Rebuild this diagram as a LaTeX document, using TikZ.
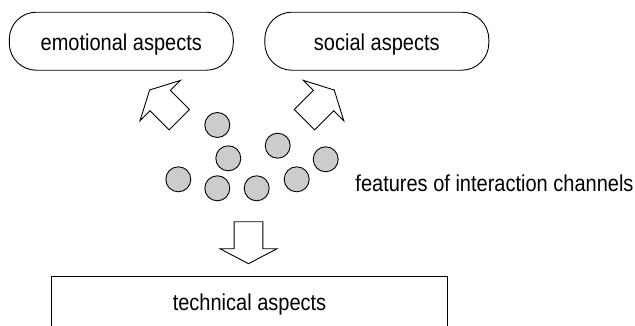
\documentclass[tikz,border=0pt]{standalone}
\usepackage{fontspec}
\setmainfont{Liberation Sans}[FakeStretch=0.87]
\begin{document}
\begin{tikzpicture}[x=1pt,y=1pt,line width=0.9pt,
    font=\fontsize{23}{28}\selectfont,
    aspect/.style={draw,rounded corners=27pt,minimum width=224pt,minimum height=58pt,
      text height=18pt,text depth=0pt,inner sep=0pt},
    channel/.style={circle,draw,fill=black!20,minimum size=25pt,inner sep=0pt},
    blockarrow/.pic={\draw[fill=white,line join=miter]
      (0,-14.4) -- (27,-14.4) -- (27,-28.6) -- (42,0) -- (27,28.6) -- (27,14.4) -- (0,14.4) -- cycle;}]
  \clip (0,0) rectangle (635,325);
  \draw
    (121.3,283.8) node[aspect] (emo){emotional aspects}
    (376.8,283.8) node[aspect] (soc){social aspects}
    (249.5,24) node[aspect,sharp corners,minimum width=395.6pt,minimum height=50pt] (tech){technical aspects};
  \draw
    (217.3,200) node[channel] (1){}
    (228.3,166.7) node[channel] (2){}
    (277.7,179.3) node[channel] (3){}
    (325.7,165.7) node[channel] (4){}
    (178.3,145.7) node[channel] (5){}
    (217.3,136.7) node[channel] (6){}
    (256.7,136.7) node[channel] (7){}
    (296.7,145.7) node[channel] (8){};
  \node[anchor=base west,inner sep=0pt] (feat) at (355,134) {features of interaction channels};
  % block arrows towards the aspects
  \pic[rotate=135] at (179.3,205.3) {blockarrow};
  \pic[rotate=45] at (304.5,205.3) {blockarrow};
  \pic[rotate=-90] at (248.5,103.3) {blockarrow};
\end{tikzpicture}
\end{document}
